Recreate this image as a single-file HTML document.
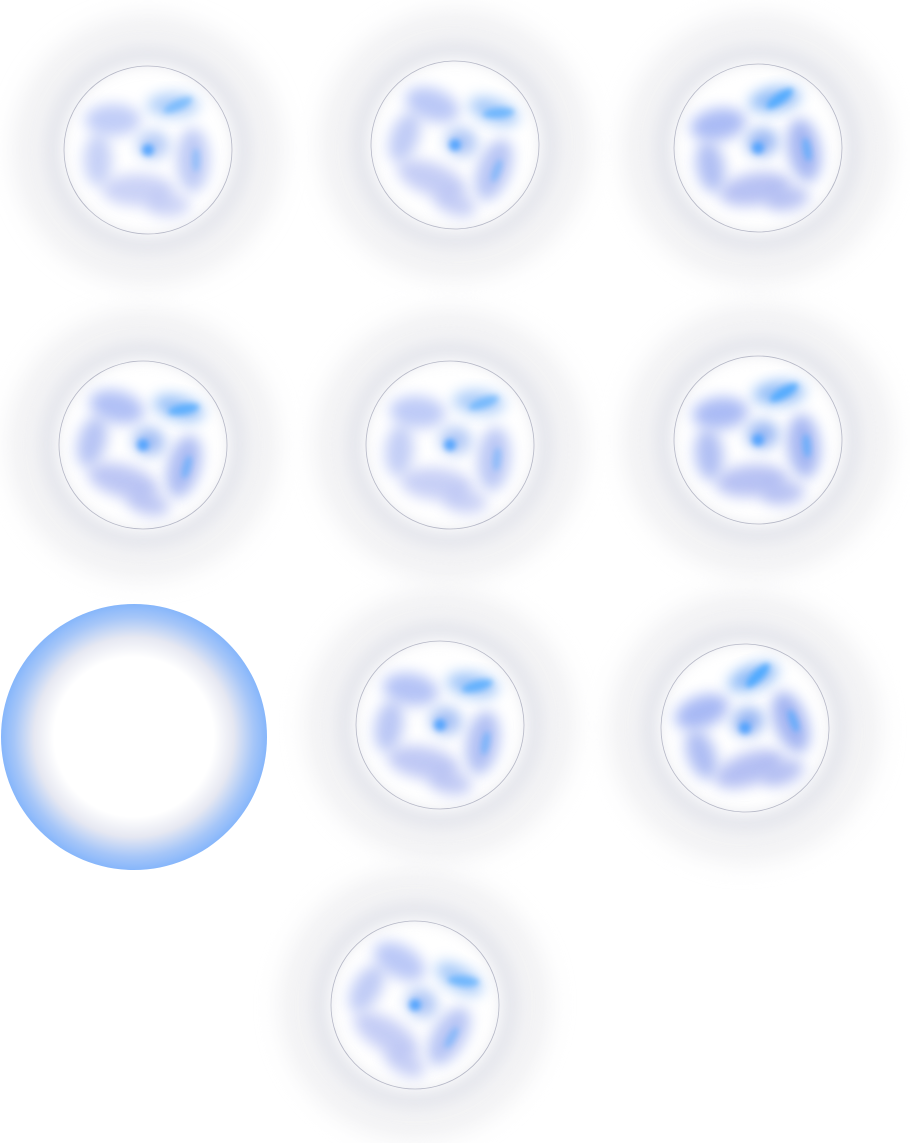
<!DOCTYPE html>
<html><head><meta charset="utf-8"><style>
html,body{margin:0;padding:0;background:#fff;width:910px;height:1143px;overflow:hidden}
svg{display:block}
</style></head><body>
<svg id="sheet" width="910" height="1143" viewBox="0 0 910 1143" xmlns="http://www.w3.org/2000/svg">
<defs>
<filter id="b12" x="-50%" y="-50%" width="200%" height="200%"><feGaussianBlur stdDeviation="12"/></filter>
<filter id="b6" x="-50%" y="-50%" width="200%" height="200%"><feGaussianBlur stdDeviation="7"/></filter>
<filter id="b3" x="-50%" y="-50%" width="200%" height="200%"><feGaussianBlur stdDeviation="3"/></filter>
<radialGradient id="ringGrad" cx="50%" cy="50%" r="50%">
<stop offset="0" stop-color="#ffffff"/>
<stop offset="0.6" stop-color="#ffffff"/>
<stop offset="0.75" stop-color="#e6e8f2"/>
<stop offset="0.9" stop-color="#a6c6f8"/>
<stop offset="1" stop-color="#86b6fb"/>
</radialGradient>
</defs>
<circle cx="134" cy="737" r="133" fill="url(#ringGrad)"/>
<g id="swirls"></g>
</svg>
<script>
const centers=[[148,150],[455,145],[758,148],[143,445],[450,445],[758,440],[440,725],[745,728],[415,1005]];
const intensity=[0.5,0.6,0.85,0.75,0.55,0.85,0.7,0.9,0.6];
const rotations=[0,20,-10,15,5,-5,10,-20,30];
const NS='http://www.w3.org/2000/svg';
const g=document.getElementById('swirls');
function mk(t,a){const e=document.createElementNS(NS,t);for(const k in a)e.setAttribute(k,a[k]);return e;}
centers.forEach((c,i)=>{
 const [x,y]=c, k=intensity[i];
 const sw=mk('g',{transform:`rotate(${rotations[i]} ${x} ${y})`});
 
 
 sw.appendChild(mk('circle',{cx:x,cy:y,r:118,fill:'none',stroke:'#e4e4e8','stroke-width':34,opacity:0.5,filter:'url(#b12)'}));
 sw.appendChild(mk('circle',{cx:x,cy:y,r:95,fill:'none',stroke:'#d6d8e2','stroke-width':20,opacity:0.55,filter:'url(#b6)'}));
 sw.appendChild(mk('circle',{cx:x,cy:y,r:84,fill:'none',stroke:'#9a9db0','stroke-width':0.8,opacity:0.7}));
 const blobs=[[-35,-30,28,16,'#90a6f2'],[25,-45,26,12,'#6fa8f5'],[45,10,16,32,'#8aa0ee'],[-10,40,36,16,'#a0aef0'],[-50,10,14,26,'#98abf0'],[5,-5,16,14,'#7aa2f0'],[20,55,22,12,'#a5b2f0']];
 blobs.forEach(b=>{
  sw.appendChild(mk('ellipse',{cx:x+b[0],cy:y+b[1],rx:b[2],ry:b[3],fill:b[4],opacity:0.6*k+0.25,filter:'url(#b6)'}));
 });
 sw.appendChild(mk('ellipse',{cx:x+30,cy:y-45,rx:16,ry:5,fill:'#4aa8ff',opacity:k,filter:'url(#b3)',transform:`rotate(-25 ${x+30} ${y-45})`}));
 sw.appendChild(mk('ellipse',{cx:x+48,cy:y+10,rx:4,ry:12,fill:'#4aa8ff',opacity:k*0.7,filter:'url(#b3)'}));
 sw.appendChild(mk('circle',{cx:x,cy:y,r:6,fill:'#3f9cff',opacity:0.8,filter:'url(#b3)'}));
 g.appendChild(sw);
});
</script>
</body></html>
